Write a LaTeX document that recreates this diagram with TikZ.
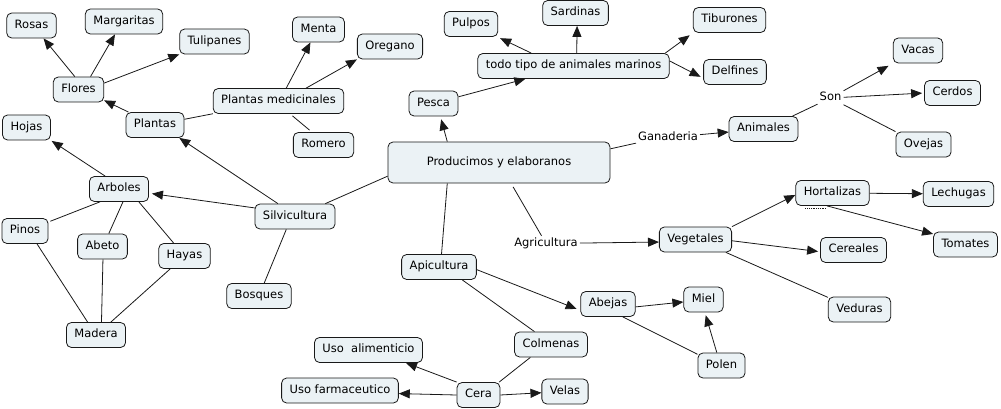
\documentclass[tikz,border=0pt]{standalone}
\usepackage{fontspec}
\setmainfont{DejaVu Sans}
\usetikzlibrary{arrows.meta}
\definecolor{cfill}{RGB}{235,242,245}
\definecolor{cline}{RGB}{25,25,25}
\tikzset{
  concept/.style={draw=cline, line width=0.8pt, fill=cfill, rounded corners=5pt,
    font=\fontsize{11.5}{13}\selectfont, inner xsep=8pt, inner ysep=0pt,
    minimum height=25pt, text height=8.4pt, text depth=2.6pt},
  lbl/.style={font=\fontsize{11.5}{13}\selectfont, inner xsep=2pt, inner ysep=2pt,
    text height=8.4pt, text depth=2.6pt},
  ln/.style={draw=cline, line width=0.8pt},
  tri/.style={-{Triangle[length=11pt,width=9pt]}}
}
\begin{document}
\begin{tikzpicture}[x=1pt,y=-1pt]
\useasboundingbox (0,0) rectangle (1001,409);
% concepts
\node[concept] (rosas) at (31.5,25.5) {Rosas};
\node[concept] (margaritas) at (124,21.5) {Margaritas};
\node[concept] (tulipanes) at (214.5,41.5) {Tulipanes};
\node[concept] (flores) at (78.5,89.5) {Flores};
\node[concept] (plantas) at (155,125) {Plantas};
\node[concept] (plmed) at (278.5,101) {Plantas medicinales};
\node[concept] (menta) at (318.5,29.5) {Menta};
\node[concept] (oregano) at (390,46.5) {Oregano};
\node[concept] (romero) at (323.5,145) {Romero};
\node[concept] (hojas) at (26.5,127.5) {Hojas};
\node[concept] (arboles) at (119,189) {Arboles};
\node[concept] (pinos) at (25,231) {Pinos};
\node[concept] (abeto) at (102.5,246.5) {Abeto};
\node[concept] (hayas) at (184.5,256) {Hayas};
\node[concept] (madera) at (96,335) {Madera};
\node[concept] (silv) at (295,216.5) {Silvicultura};
\node[concept] (bosques) at (259,296) {Bosques};
\node[concept, minimum width=222pt, minimum height=41pt] (prod) at (499,162.5) {Producimos y elaboranos};
\node[concept] (pesca) at (433.5,103.5) {Pesca};
\node[concept] (todo) at (573.5,66) {todo tipo de animales marinos};
\node[concept] (pulpos) at (471,24) {Pulpos};
\node[concept] (sardinas) at (575.5,13) {Sardinas};
\node[concept] (tiburones) at (729.5,20) {Tiburones};
\node[concept] (delfines) at (735,72) {Delfines};
\node[concept] (animales) at (763.5,129) {Animales};
\node[concept] (vacas) at (918,50.5) {Vacas};
\node[concept] (cerdos) at (952.5,93) {Cerdos};
\node[concept] (ovejas) at (923.5,144.5) {Ovejas};
\node[concept] (hortalizas) at (832.5,193) {Hortalizas};
\node[concept] (lechugas) at (958.5,194) {Lechugas};
\node[concept] (vegetales) at (695.5,239.5) {Vegetales};
\node[concept] (cereales) at (853.5,250) {Cereales};
\node[concept] (tomates) at (965.5,244.5) {Tomates};
\node[concept] (veduras) at (859.5,309.5) {Veduras};
\node[concept] (apicultura) at (439,267) {Apicultura};
\node[concept] (abejas) at (608,304) {Abejas};
\node[concept] (miel) at (703.5,299.5) {Miel};
\node[concept] (polen) at (721.5,365.5) {Polen};
\node[concept] (colmenas) at (551,344.5) {Colmenas};
\node[concept] (usoal) at (368.5,350) {Uso\ \ alimenticio};
\node[concept] (usofa) at (340,390.5) {Uso farmaceutico};
\node[concept] (cera) at (478.5,395) {Cera};
\node[concept] (velas) at (565,391.5) {Velas};
% linking phrases
\node[lbl] (ganaderia) at (668,137.5) {Ganaderia};
\node[lbl] (son) at (830.5,98) {Son};
\node[lbl] (agricultura) at (546,243.5) {Agricultura};
% connectors
\draw[ln,tri] (flores.106) -- (rosas.-47);
\draw[ln,tri] (flores.47) -- (margaritas.235);
\draw[ln,tri] (flores.14) -- (tulipanes.200);
\draw[ln,tri] (plantas.154) -- (flores.-23);
\draw[ln] (plantas.11) -- (plmed.191);
\draw[ln,tri] (plmed.59) -- (menta.-122);
\draw[ln,tri] (plmed.25) -- (oregano.south west);
\draw[ln,shorten <=3pt,shorten >=3pt] (plmed.-48) -- (romero.132);
\draw[ln,tri] (silv.143) -- (plantas.-28);
\draw[ln,tri,shorten >=1pt] (arboles.137) -- (hojas.south east);
\draw[ln,tri,shorten >=3pt] (silv.168) -- (arboles.-8);
\draw[ln,shorten >=2pt] (arboles.-146) -- (pinos.21);
\draw[ln] (arboles.-73) -- (abeto.64);
\draw[ln] (arboles.-33) -- (hayas.130);
\draw[ln] (pinos.-47) -- (madera.123);
\draw[ln] (abeto.-88) -- (madera.67);
\draw[ln] (hayas.-138) -- (madera.41);
\draw[ln] (silv.-124) -- (bosques.68);
\draw[ln] (silv.23) -- (prod.187.4);
\draw[ln,tri,shorten >=3pt] (prod.158.5) -- (pesca.-62);
\draw[ln,tri] (pesca.15) -- (todo.195.3);
\draw[ln,tri,shorten >=3pt] (todo.163) -- (pulpos.-26);
\draw[ln,tri] (todo.76) -- (sardinas.-83);
\draw[ln,tri,shorten >=4pt] (todo.8.7) -- (tiburones.south west);
\draw[ln,tri,shorten >=3pt] (todo.3.6) -- (delfines.191);
\draw[ln] (prod.7.8) -- (ganaderia.190);
\draw[ln,tri] (ganaderia) -- (animales.185);
\draw[ln] (animales.24) -- (son);
\draw[ln,tri,shorten >=5pt] (son) -- (vacas.south west);
\draw[ln,tri,shorten >=2pt] (son) -- (cerdos.west);
\draw[ln] (son) -- (ovejas.north west);
\draw[ln,shorten <=4pt] (prod.-60) -- (agricultura);
\draw[ln,tri] (agricultura) -- (vegetales.184);
\draw[ln,tri] (vegetales.north east) -- (hortalizas.183);
\draw[ln,tri] (hortalizas) -- (lechugas);
\draw[ln,tri] (hortalizas.-113) -- (tomates.162);
\draw[ln,densely dotted] ([shift={(10,2)}]hortalizas.south west) -- ([shift={(-6,2)}]hortalizas.south);
\draw[ln,tri,shorten >=2pt] (vegetales.-2.4) -- (cereales.183);
\draw[ln] (vegetales.-23) -- (veduras.159);
\draw[ln] (prod.-158) -- (apicultura.79);
\draw[ln,tri,shorten >=4pt] (apicultura.-4.5) -- (abejas.193);
\draw[ln] (apicultura.-29) -- (colmenas.142);
\draw[ln,tri] (abejas.-6) -- (miel.187);
\draw[ln] (abejas.-41) -- (polen.155);
\draw[ln,tri,shorten >=3pt] (polen.110) -- (miel.-84);
\draw[ln] (colmenas.-148) -- (cera.32);
\draw[ln,tri] (cera.north west) -- (usoal.-19.5);
\draw[ln,tri] (cera.west) -- (usofa.-3.3);
\draw[ln,tri] (cera.east) -- (velas.183.4);
\end{tikzpicture}
\end{document}
